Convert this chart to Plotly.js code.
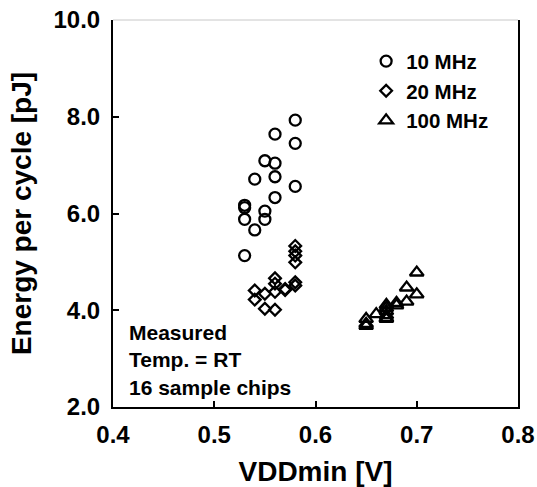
<!DOCTYPE html>
<html>
<head>
<meta charset="utf-8">
<script src="https://cdn.plot.ly/plotly-3.0.1.min.js"></script>
<style>html,body{margin:0;padding:0;background:#fff;}#chart{width:537px;height:487px;}</style>
</head>
<body>
<div id="chart"></div>
<script>
// 10 MHz (open circles)
const x10 = [0.58, 0.58, 0.58, 0.56, 0.56, 0.56, 0.56, 0.55, 0.55, 0.55, 0.54, 0.54, 0.53, 0.53, 0.53, 0.53];
const y10 = [7.93, 7.45, 6.56, 7.64, 7.04, 6.76, 6.33, 7.09, 6.05, 5.88, 6.71, 5.66, 6.17, 6.12, 5.88, 5.13];
// 20 MHz (open diamonds)
const x20 = [0.58, 0.58, 0.58, 0.58, 0.58, 0.58, 0.57, 0.57, 0.56, 0.56, 0.56, 0.56, 0.55, 0.55, 0.54, 0.54];
const y20 = [5.33, 5.22, 5.13, 4.99, 4.58, 4.51, 4.44, 4.42, 4.66, 4.55, 4.38, 4.01, 4.34, 4.03, 4.41, 4.22];
// 100 MHz (open triangles)
const x100 = [0.70, 0.70, 0.69, 0.69, 0.68, 0.68, 0.67, 0.67, 0.67, 0.67, 0.67, 0.67, 0.66, 0.65, 0.65, 0.65];
const y100 = [4.78, 4.33, 4.47, 4.18, 4.15, 4.10, 4.11, 4.05, 3.98, 3.90, 3.84, 3.82, 3.92, 3.82, 3.72, 3.68];

const seriesNames = ['10 MHz', '20 MHz', '100 MHz'];
const noteLines = ['Measured', 'Temp. = RT', '16 sample chips'];

const FONT = 'Liberation Sans, Arial, Helvetica, sans-serif';

function tr(x, y, name, symbol, size) {
  return {
    x: x, y: y, name: name, type: 'scatter', mode: 'markers',
    marker: {symbol: symbol, size: size, color: 'black', line: {color: 'black', width: 2.3}},
    cliponaxis: false
  };
}

const data = [
  tr(x10, y10, seriesNames[0], 'circle-open', 11),
  tr(x20, y20, seriesNames[1], 'diamond-open', 9),
  tr(x100, y100, seriesNames[2], 'triangle-up-open', 12)
];

const layout = {
  width: 537, height: 487,
  margin: {l: 113, r: 19, t: 20, b: 80},
  paper_bgcolor: 'white', plot_bgcolor: 'white',
  font: {family: FONT, color: 'black', weight: 'bold', size: 21},
  showlegend: true,
  legend: {
    x: 0.625, y: 0.945, xanchor: 'left', yanchor: 'top',
    bgcolor: 'rgba(0,0,0,0)', borderwidth: 0,
    font: {family: FONT, size: 20.5, weight: 'bold', color: 'black'},
    itemwidth: 30
  },
  xaxis: {
    range: [0.4, 0.8], dtick: 0.1, tick0: 0.4, tickformat: '.1f',
    showgrid: false, zeroline: false,
    showline: true, linecolor: 'black', linewidth: 2, mirror: false,
    ticks: 'inside', ticklen: 6, tickwidth: 2, tickcolor: 'black',
    ticklabelstandoff: 5,
    tickfont: {family: FONT, size: 24, weight: 'bold', color: 'black'},
    title: {text: 'VDDmin [V]', font: {family: FONT, size: 28, weight: 'bold', color: 'black'}, standoff: 15}
  },
  yaxis: {
    range: [2, 10], dtick: 2, tick0: 2, tickformat: '.1f',
    showgrid: false, zeroline: false,
    showline: true, linecolor: 'black', linewidth: 2, mirror: true,
    ticks: 'inside', ticklen: 6, tickwidth: 2, tickcolor: 'black',
    ticklabelstandoff: 6,
    tickfont: {family: FONT, size: 24, weight: 'bold', color: 'black'},
    title: {text: 'Energy per cycle [pJ]', font: {family: FONT, size: 28, weight: 'bold', color: 'black'}, standoff: 14}
  },
  shapes: [
    {type: 'line', xref: 'paper', yref: 'paper', x0: 0, x1: 1, y0: 1, y1: 1,
     line: {color: '#c8c8c8', width: 1}}
  ],
  annotations: [
    {xref: 'paper', yref: 'paper', x: 0.035, y: 0.121, xanchor: 'left', yanchor: 'middle',
     align: 'left', showarrow: false, text: noteLines.join('<br>'),
     font: {family: FONT, size: 21, weight: 'bold', color: 'black'}}
  ]
};

Plotly.newPlot('chart', data, layout, {displayModeBar: false, staticPlot: true});
</script>
</body>
</html>
